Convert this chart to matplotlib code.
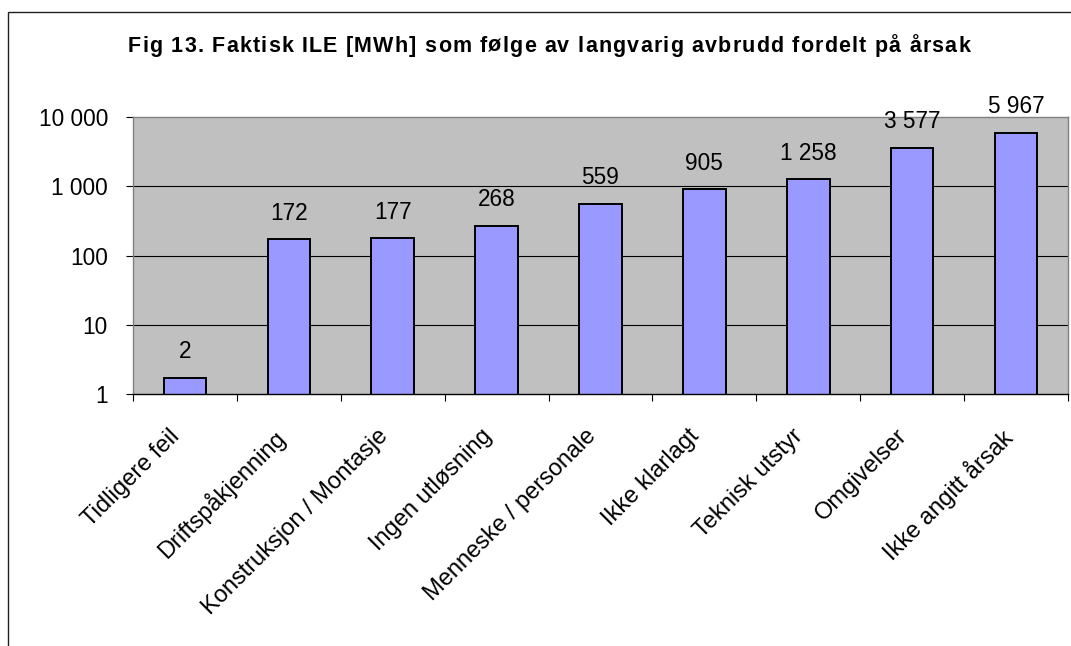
import matplotlib
matplotlib.use("Agg")
import matplotlib.pyplot as plt
from matplotlib.patches import Rectangle
from matplotlib.transforms import ScaledTranslation
import numpy as np

categories = ["Tidligere feil", "Driftspåkjenning", "Konstruksjon / Montasje",
              "Ingen utløsning", "Menneske / personale", "Ikke klarlagt",
              "Teknisk utstyr", "Omgivelser", "Ikke angitt årsak"]
values = [1.7, 172, 177, 268, 559, 905, 1258, 3577, 5967]
ytick_values = [1, 10, 100, 1000, 10000]
ytick_labels = ["1", "10", "100", "1 000", "10 000"]
title = "Fig 13. Faktisk ILE [MWh] som følge av langvarig avbrudd fordelt på årsak"

plt.rcParams['font.family'] = ['Liberation Sans', 'DejaVu Sans']

W, H = 1071, 646
fig = plt.figure(figsize=(W / 100, H / 100), dpi=100)
ax = fig.add_axes([133 / W, 1 - 394 / H, (1068 - 133) / W, (394 - 117) / H])

ax.set_facecolor("#C0C0C0")
x = np.arange(len(categories))
ax.set_yscale("log")

for yv in ytick_values[1:-1]:
    ax.axhline(yv, color="#000000", lw=0.8, zorder=1)

bars = ax.bar(x, values, width=0.41, color="#9999FF",
              edgecolor="black", linewidth=1.4, zorder=2)
ax.set_ylim(1, 10000)
ax.set_xlim(-0.5, len(categories) - 0.5)

for xi, v in zip(x, values):
    lbl = f"{v:,.0f}".replace(",", " ")
    ax.annotate(lbl, (xi, v), xytext=(0, 10.5), textcoords="offset points",
                ha="center", va="bottom", fontsize=16.3, color="black")

ax.set_yticks(ytick_values)
ax.set_yticklabels(ytick_labels)
ax.yaxis.set_minor_locator(matplotlib.ticker.NullLocator())
ax.tick_params(axis="y", which="major", length=5, width=0.8, pad=13, labelsize=16.3,
               direction="out")

ax.set_xticks(np.arange(-0.5, len(categories), 1.0))
ax.set_xticklabels([])
ax.set_xticks(x, minor=True)
ax.set_xticklabels(categories, minor=True, rotation=45, ha="right", va="top",
                   rotation_mode="anchor", fontsize=17)
ax.tick_params(axis="x", which="minor", length=0, pad=22.5)
ax.tick_params(axis="x", which="major", length=5, width=0.8, direction="out",
               color="black")
shift = ScaledTranslation(-16 / 100, 0, fig.dpi_scale_trans)
for lab in ax.get_xticklabels(minor=True):
    lab.set_transform(lab.get_transform() + shift)

for s in ["left", "top", "right"]:
    ax.spines[s].set_color("#808080")
    ax.spines[s].set_linewidth(1.0)
ax.spines["bottom"].set_color("black")
ax.spines["bottom"].set_linewidth(1.0)

# Title with Excel-like letter spacing
title_kw = dict(fontsize=15.5, fontweight="bold", color="black")
renderer = fig.canvas.get_renderer()


def text_w(s):
    t = fig.text(0, 0, s, **title_kw)
    w = t.get_window_extent(renderer).width
    t.remove()
    return w


target_w = 842.0
wx = text_w("x")
starts = [0.0] + [text_w(title[:i] + "x") - wx for i in range(1, len(title))]
natural = text_w(title)
extra = (target_w - natural) / (len(title) - 1)
x0 = 549 - target_w / 2
for i, ch in enumerate(title):
    if ch == " ":
        continue
    fig.text((x0 + starts[i] + i * extra) / W, 1 - 52 / H, ch,
             ha="left", va="baseline", **title_kw)

fig.patches.append(Rectangle((8 / W, -0.1), 1.2, 1 - 12 / H + 0.1,
                             transform=fig.transFigure, fill=False,
                             edgecolor="#202020", linewidth=1.0))

fig.savefig("out.png", dpi=100)
